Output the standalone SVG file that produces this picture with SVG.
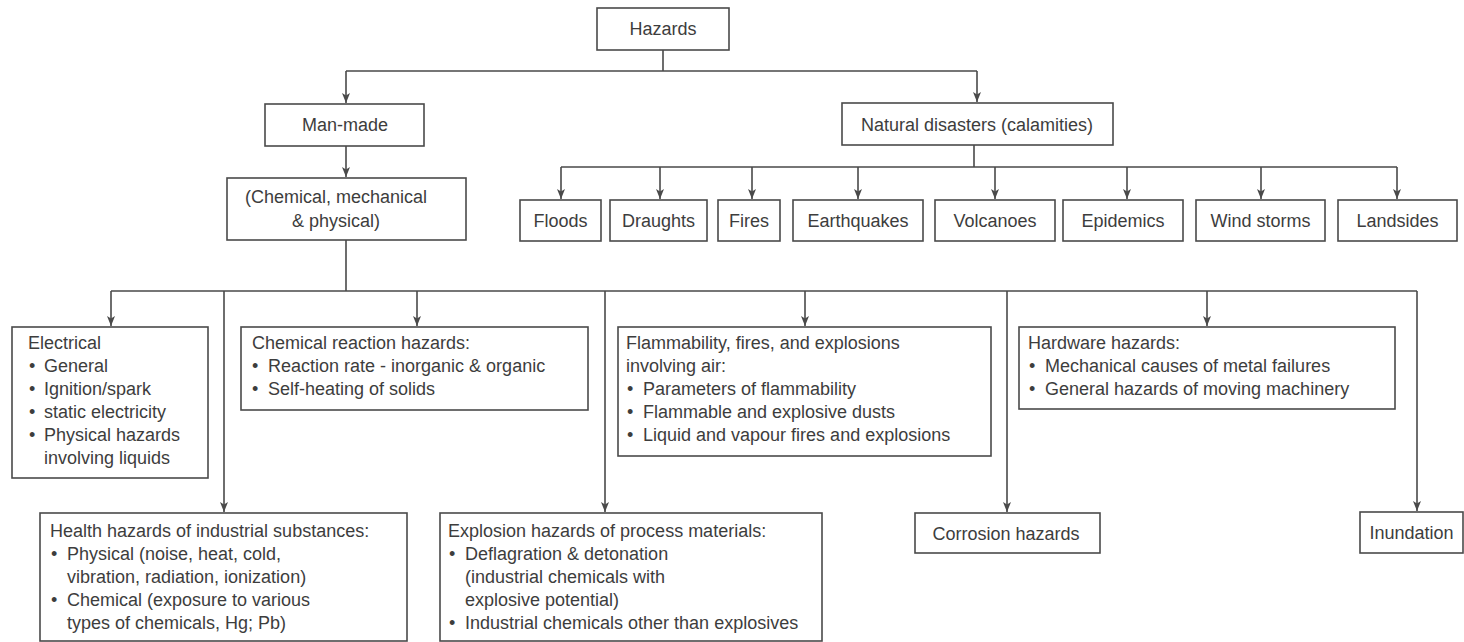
<svg xmlns="http://www.w3.org/2000/svg" width="1464" height="642" viewBox="0 0 1464 642">
<style>
.box{fill:#fff;stroke:#4a4a4a;stroke-width:1.6}
.ln{fill:none;stroke:#4a4a4a;stroke-width:1.6}
.ar{fill:none;stroke:#4a4a4a;stroke-width:1.6;marker-end:url(#ah)}
text{font-family:"Liberation Sans",Arial,sans-serif;font-size:18px;fill:#3d3d3d}
.c{text-anchor:middle}
</style>
<defs>
<marker id="ah" markerUnits="userSpaceOnUse" markerWidth="10" markerHeight="10" viewBox="0 0 10 8" refX="10" refY="4" orient="auto">
<path d="M0,0 L10,4 L0,8 L2.5,4 z" fill="#4a4a4a"/>
</marker>
</defs>
<rect width="1464" height="642" fill="#fff"/>
<g id="connectors">
<path class="ln" d="M663,50 V71 M346,71 H977"/>
<path class="ar" d="M346,71 V103"/>
<path class="ar" d="M977,71 V102"/>
<path class="ar" d="M346,146 V177"/>
<path class="ln" d="M974,145 V167 M561,167 H1397"/>
<path class="ar" d="M561,167 V199"/>
<path class="ar" d="M660,167 V199"/>
<path class="ar" d="M752,167 V199"/>
<path class="ar" d="M858,167 V199"/>
<path class="ar" d="M995,167 V199"/>
<path class="ar" d="M1127,167 V199"/>
<path class="ar" d="M1261,167 V199"/>
<path class="ar" d="M1397,167 V199"/>
<path class="ln" d="M346,240 V291 M111,291 H1417"/>
<path class="ar" d="M111,291 V326"/>
<path class="ar" d="M224,291 V512"/>
<path class="ar" d="M417,291 V326"/>
<path class="ar" d="M605,291 V512"/>
<path class="ar" d="M805,291 V326"/>
<path class="ar" d="M1007,291 V512"/>
<path class="ar" d="M1207,291 V326"/>
<path class="ar" d="M1417,291 V511"/>
</g>
<g id="hazards"><rect class="box" x="597" y="8" width="132" height="42"/><text class="c" x="663" y="35">Hazards</text></g>
<g id="man-made"><rect class="box" x="265" y="104" width="159" height="42"/><text class="c" x="345" y="131">Man-made</text></g>
<g id="chem-mech-phys"><rect class="box" x="227" y="178" width="239" height="62"/><text class="c" x="336" y="203">(Chemical, mechanical</text><text class="c" x="336" y="227">&amp; physical)</text></g>
<g id="natural"><rect class="box" x="842" y="103" width="271" height="42"/><text class="c" x="977" y="131">Natural disasters (calamities)</text></g>
<g id="floods"><rect class="box" x="520" y="200" width="81" height="41"/><text class="c" x="560.5" y="227">Floods</text></g>
<g id="draughts"><rect class="box" x="610" y="200" width="97" height="41"/><text class="c" x="658.5" y="227">Draughts</text></g>
<g id="fires"><rect class="box" x="718" y="200" width="62" height="41"/><text class="c" x="749" y="227">Fires</text></g>
<g id="earthquakes"><rect class="box" x="793" y="200" width="130" height="41"/><text class="c" x="858" y="227">Earthquakes</text></g>
<g id="volcanoes"><rect class="box" x="935" y="200" width="120" height="41"/><text class="c" x="995" y="227">Volcanoes</text></g>
<g id="epidemics"><rect class="box" x="1063" y="200" width="120" height="41"/><text class="c" x="1123" y="227">Epidemics</text></g>
<g id="wind-storms"><rect class="box" x="1196" y="200" width="129" height="41"/><text class="c" x="1260.5" y="227">Wind storms</text></g>
<g id="landsides"><rect class="box" x="1338" y="200" width="119" height="41"/><text class="c" x="1397.5" y="227">Landsides</text></g>
<g id="electrical"><rect class="box" x="12" y="327" width="196" height="151"/>
<text x="28" y="349">Electrical</text>
<text y="372"><tspan x="29">•</tspan><tspan x="44">General</tspan></text>
<text y="395"><tspan x="29">•</tspan><tspan x="44">Ignition/spark</tspan></text>
<text y="418"><tspan x="29">•</tspan><tspan x="44">static electricity</tspan></text>
<text y="441"><tspan x="29">•</tspan><tspan x="44">Physical hazards</tspan></text>
<text x="44" y="464">involving liquids</text>
</g>
<g id="chemical-reaction"><rect class="box" x="241" y="327" width="347" height="83"/>
<text x="252" y="349">Chemical reaction hazards:</text>
<text y="372"><tspan x="252">•</tspan><tspan x="268">Reaction rate - inorganic &amp; organic</tspan></text>
<text y="395"><tspan x="252">•</tspan><tspan x="268">Self-heating of solids</tspan></text>
</g>
<g id="flammability"><rect class="box" x="618" y="327" width="373" height="129"/>
<text x="626" y="349">Flammability, fires, and explosions</text>
<text x="626" y="372">involving air:</text>
<text y="395"><tspan x="627">•</tspan><tspan x="643">Parameters of flammability</tspan></text>
<text y="418"><tspan x="627">•</tspan><tspan x="643">Flammable and explosive dusts</tspan></text>
<text y="441"><tspan x="627">•</tspan><tspan x="643">Liquid and vapour fires and explosions</tspan></text>
</g>
<g id="hardware"><rect class="box" x="1019" y="327" width="376" height="82"/>
<text x="1028" y="349">Hardware hazards:</text>
<text y="372"><tspan x="1029">•</tspan><tspan x="1045">Mechanical causes of metal failures</tspan></text>
<text y="395"><tspan x="1029">•</tspan><tspan x="1045">General hazards of moving machinery</tspan></text>
</g>
<g id="health"><rect class="box" x="40" y="513" width="367" height="128"/>
<text x="50" y="537">Health hazards of industrial substances:</text>
<text y="560"><tspan x="51">•</tspan><tspan x="67">Physical (noise, heat, cold,</tspan></text>
<text x="67" y="583">vibration, radiation, ionization)</text>
<text y="606"><tspan x="51">•</tspan><tspan x="67">Chemical (exposure to various</tspan></text>
<text x="67" y="629">types of chemicals, Hg; Pb)</text>
</g>
<g id="explosion"><rect class="box" x="440" y="513" width="382" height="128"/>
<text x="448" y="537">Explosion hazards of process materials:</text>
<text y="560"><tspan x="449">•</tspan><tspan x="465">Deflagration &amp; detonation</tspan></text>
<text x="465" y="583">(industrial chemicals with</text>
<text x="465" y="606">explosive potential)</text>
<text y="629"><tspan x="449">•</tspan><tspan x="465">Industrial chemicals other than explosives</tspan></text>
</g>
<g id="corrosion"><rect class="box" x="915" y="513" width="185" height="40"/><text class="c" x="1006" y="540">Corrosion hazards</text></g>
<g id="inundation"><rect class="box" x="1360" y="512" width="103" height="41"/><text class="c" x="1411.5" y="539">Inundation</text></g>
</svg>
